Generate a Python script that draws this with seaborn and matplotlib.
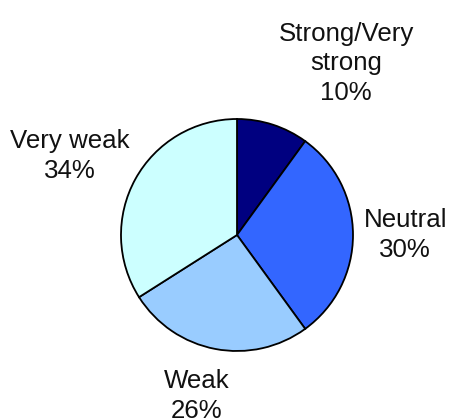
import matplotlib
matplotlib.use("Agg")
import matplotlib.pyplot as plt
import seaborn as sns

# Share of responses per strength category
categories = ["Strong/Very\nstrong", "Neutral", "Weak", "Very weak"]
shares = [10, 30, 26, 34]
colors_hex = ["#000080", "#3366FF", "#99CCFF", "#CCFFFF"]

# Label placement relative to pie centre, in units of the radius
label_offsets = [(0.94, 1.48), (1.45, 0.0), (-0.35, -1.39), (-1.44, 0.68)]

sns.set_theme(style="white")
plt.rcParams["font.family"] = ["Liberation Sans", "DejaVu Sans"]

W, H = 449, 419
fig = plt.figure(figsize=(W / 100, H / 100), dpi=100)
ax = fig.add_axes([0, 0, 1, 1])

cx, cy, r = 237, H - 235, 116
palette = sns.color_palette(colors_hex)
ax.pie(
    shares,
    colors=palette,
    startangle=90,
    counterclock=False,
    center=(cx, cy),
    radius=r,
    wedgeprops=dict(edgecolor="black", linewidth=1.3),
)

for cat, val, (dx, dy) in zip(categories, shares, label_offsets):
    ax.text(cx + dx * r, cy + dy * r, f"{cat}\n{val}%",
            ha="center", va="center", fontsize=18.6, color="#111111",
            linespacing=1.3)

ax.set_xlim(0, W)
ax.set_ylim(0, H)
ax.set_aspect("equal")
ax.axis("off")

fig.savefig("out.png", dpi=100, facecolor="white")
